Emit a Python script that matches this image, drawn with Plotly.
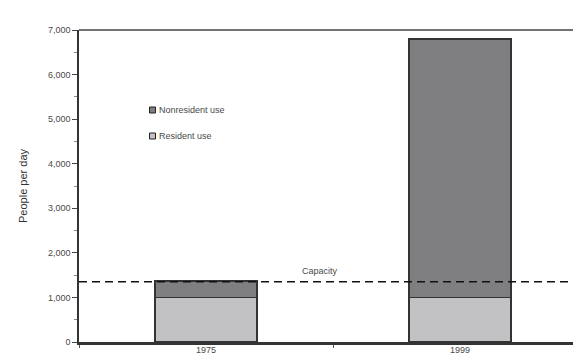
import plotly.graph_objects as go

years = ["1975", "1999"]
resident_use = [1000, 1000]
nonresident_use = [370, 5800]
capacity = 1350
y_ticks = [0, 1000, 2000, 3000, 4000, 5000, 6000, 7000]
y_ticktext = ["0", "1,000", "2,000", "3,000", "4,000", "5,000", "6,000", "7,000"]

W, H = 581, 354
L, R, T, B = 71, 2, 22, 20
pw, ph = W - L - R, H - T - B

def px_x(px):
    return (px - L) / pw

def px_y(py):
    return (H - B - py) / ph

FONT = "Liberation Sans, Arial, sans-serif"
TXT = "#4a4a4a"

fig = go.Figure()
fig.add_trace(go.Bar(x=years, y=resident_use, name="Resident use",
                     marker=dict(color="#c2c2c4", line=dict(color="#333333", width=1.5)),
                     showlegend=False))
fig.add_trace(go.Bar(x=years, y=nonresident_use, name="Nonresident use",
                     marker=dict(color="#7f7f82", line=dict(color="#333333", width=1.5)),
                     showlegend=False))

shapes = [
    dict(type="line", xref="paper", yref="y", x0=0, x1=1, y0=capacity, y1=capacity,
         line=dict(color="#111111", width=1.5, dash="8px,5px")),
    # top and right frame
    dict(type="line", xref="paper", yref="paper", x0=0, x1=1, y0=1, y1=1,
         line=dict(color="#444444", width=1.5)),
    dict(type="line", xref="paper", yref="paper", x0=1, x1=1, y0=0, y1=1,
         line=dict(color="#d0d0d0", width=1)),
]
# legend keys
legend_items = [("Nonresident use", "#7f7f82", 102), ("Resident use", "#c2c2c4", 128)]
annotations = []
for label, col, cy in legend_items:
    shapes.append(dict(type="rect", xref="paper", yref="paper",
                       x0=px_x(141.5), x1=px_x(147.5), y0=px_y(cy + 3), y1=px_y(cy - 3),
                       fillcolor=col, line=dict(color="#222222", width=1)))
    annotations.append(dict(xref="paper", yref="paper", x=px_x(149), y=px_y(cy),
                            text=label, showarrow=False, xanchor="left", yanchor="middle",
                            font=dict(family=FONT, size=9, color=TXT)))
annotations.append(dict(xref="x", yref="y", x=0.45, y=1600, text="Capacity",
                        showarrow=False, xanchor="center", yanchor="middle",
                        font=dict(family=FONT, size=9, color=TXT)))

fig.update_layout(
    width=W, height=H,
    margin=dict(l=L, r=R, t=T, b=B, pad=0),
    barmode="stack", bargap=0.6,
    plot_bgcolor="white", paper_bgcolor="white",
    font=dict(family=FONT, size=9, color=TXT),
    shapes=shapes, annotations=annotations,
    showlegend=False,
    xaxis=dict(type="category", range=[-0.5, 1.5], showgrid=False, zeroline=False,
               showline=True, linecolor="#333333", linewidth=2.5,
               ticks="outside", tickson="boundaries", ticklen=3, tickcolor="#555555",
               ticklabelstandoff=-3,
               tickfont=dict(family=FONT, size=9, color=TXT)),
    yaxis=dict(range=[0, 7000], showgrid=False, zeroline=False,
               showline=True, linecolor="#333333", linewidth=1.5,
               tickvals=y_ticks, ticktext=y_ticktext,
               ticks="outside", ticklen=5, tickcolor="#444444",
               minor=dict(dtick=500, ticks="outside", ticklen=3, tickcolor="#888888"),
               tickfont=dict(family=FONT, size=9, color=TXT),
               title=dict(text="People per day", standoff=18,
                          font=dict(family=FONT, size=11, color="#333333"))),
)

fig.write_html("out.html")
